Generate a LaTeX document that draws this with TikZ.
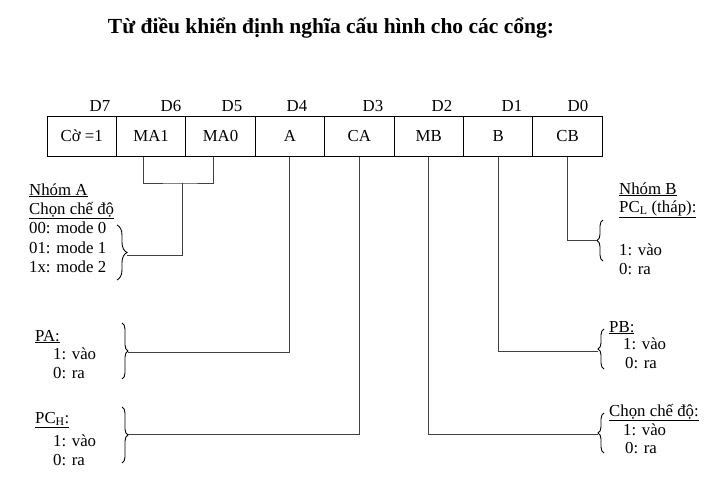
\documentclass[tikz,border=0pt]{standalone}
\usepackage{fontspec}
\setmainfont{Liberation Serif}
\usetikzlibrary{decorations.pathreplacing}

\begin{document}
\begin{tikzpicture}[x=1pt, y=-1pt,
    cell/.style={draw, line width=1pt, minimum width=69.4pt, minimum height=40pt, inner sep=0pt, font=\fontsize{16.8}{19}\selectfont},
    bit/.style={anchor=base, inner sep=0pt, font=\fontsize{16.8}{19}\selectfont},
    txt/.style={anchor=base west, inner sep=0pt, font=\fontsize{16.8}{19}\selectfont},
    wire/.style={draw=black!75, line width=0.9pt},
    brc/.style={decorate, decoration={brace, amplitude=#1}, line width=0.9pt}]
    \useasboundingbox (0,0) rectangle (710,482);

    % Title
    \node[anchor=base, inner sep=0pt, font=\fontsize{21.5}{24}\selectfont\bfseries] (title) at (331,33) {Từ điều khiển định nghĩa cấu hình cho các cổng:};

    % Control word cells
    \node[cell] (c7) at (81.7,136) {Cờ =1};
    \node[cell] (m1) at (151.1,136) {MA1};
    \node[cell] (m0) at (220.5,136) {MA0};
    \node[cell] (a) at (289.9,136) {A};
    \node[cell] (ca) at (359.3,136) {CA};
    \node[cell] (mb) at (428.7,136) {MB};
    \node[cell] (b) at (498.1,136) {B};
    \node[cell] (cb) at (567.5,136) {CB};

    % Bit numbers
    \node[bit] (d7) at (100,111) {D7};
    \node[bit] (d6) at (171,111) {D6};
    \node[bit] (d5) at (232,111) {D5};
    \node[bit] (d4) at (297,111) {D4};
    \node[bit] (d3) at (373,111) {D3};
    \node[bit] (d2) at (442,111) {D2};
    \node[bit] (d1) at (512,111) {D1};
    \node[bit] (d0) at (578,111) {D0};

    % Group A, mode
    \node[txt] (ga) at (29,195) {\underline{Nhóm A}};
    \node[txt] (gamode) at (29,214) {\underline{Chọn chế độ}};
    \node[txt] (ga0) at (29,233) {00: mode 0};
    \node[txt] (ga1) at (29,253) {01: mode 1};
    \node[txt] (ga2) at (29,272) {1x: mode 2};

    % Port A
    \node[txt] (pa) at (35,341) {\underline{PA:}};
    \node[txt] (pa1) at (53,359) {1: vào};
    \node[txt] (pa0) at (53,378) {0: ra};

    % Port C high
    \node[txt] (pch) at (35,423) {\underline{PC\textsubscript{H}:}};
    \node[txt] (pch1) at (53,446) {1: vào};
    \node[txt] (pch0) at (53,465) {0: ra};

    % Group B, port C low
    \node[txt] (gb) at (619,194) {\underline{Nhóm B}};
    \node[txt] (pcl) at (619,212) {\underline{PC\textsubscript{L} (tháp):}};
    \node[txt] (pcl1) at (619,255) {1: vào};
    \node[txt] (pcl0) at (619,274) {0: ra};

    % Port B
    \node[txt] (pb) at (609,332) {\underline{PB:}};
    \node[txt] (pb1) at (623,349) {1: vào};
    \node[txt] (pb0) at (625,368) {0: ra};

    % Group B, mode
    \node[txt] (gbmode) at (609,416) {\underline{Chọn chế độ:}};
    \node[txt] (gbm1) at (623,435) {1: vào};
    \node[txt] (gbm0) at (625,453) {0: ra};

    % Braces
    \draw[brc=10pt] (117,225) -- (117,280);
    \draw[brc=6pt] (122,323) -- (122,379);
    \draw[brc=6pt] (122,407) -- (122,463);
    \draw[brc=6pt] (603,261) -- (603,220);
    \draw[brc=6pt] (604,369) -- (604,329);
    \draw[brc=6pt] (604,453) -- (604,413);

    % Brace tips
    \coordinate (tipA) at (127,255);
    \coordinate (tipPA) at (128,352);
    \coordinate (tipPCH) at (128,434);
    \coordinate (tipPCL) at (597,240);
    \coordinate (tipPB) at (598,351);
    \coordinate (tipMB) at (598,434);
    \coordinate (mj) at (182,183);

    % Connections
    \draw[wire] ([xshift=-8pt]m1.south) |- (mj) -| ([xshift=-7.5pt]m0.south);
    \draw[wire] (mj) |- (tipA);
    \draw[wire] (a.south) |- (tipPA);
    \draw[wire] (ca.south) |- (tipPCH);
    \draw[wire] (mb.south) |- (tipMB);
    \draw[wire] (b.south) |- (tipPB);
    \draw[wire] (cb.south) |- (tipPCL);

\end{tikzpicture}
\end{document}
